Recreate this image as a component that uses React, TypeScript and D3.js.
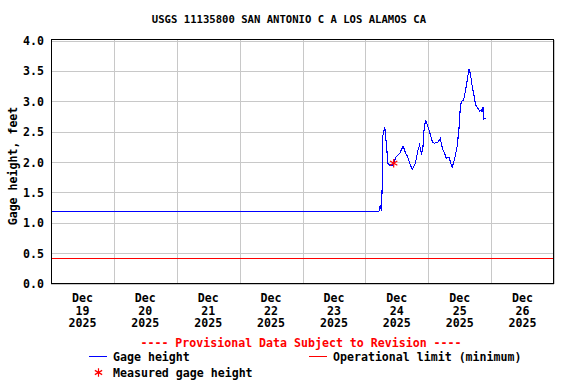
import React, { useEffect, useRef } from 'react';
import * as d3 from 'd3';

// hours after 2025-12-23 00:00 (local)
const gageHours = [
  -96, 29.2, 29.7, 30.2, 30.5, 30.7, 31.4, 31.7, 32.0, 32.6, 33.3, 34.4, 35.8, 37.1, 38.4, 39.4,
  40.1, 40.9, 41.9, 43.1, 44.1, 44.7, 45.4, 45.9, 46.4, 47.0, 48.3, 49.6, 50.4, 51.7, 52.6,
  53.4, 54.3, 54.9, 55.9, 56.8, 57.2, 58.1, 59.0, 59.7, 60.3, 60.9, 61.5, 62.3, 62.9, 63.5,
  64.1, 64.7, 65.3, 66.1, 67.0, 67.6, 68.3, 68.6, 68.9, 69.1, 69.8,
];
const gageFeet = [
  1.19, 1.19, 1.29, 1.19, 1.81, 2.44, 2.58, 2.43, 2.31, 1.98, 1.95, 1.95, 2.09, 2.14, 2.26, 2.14,
  2.09, 1.98, 1.88, 1.98, 2.2, 2.28, 2.14, 2.2, 2.53, 2.69, 2.53, 2.33, 2.31, 2.33, 2.39,
  2.22, 2.14, 2.06, 2.08, 1.95, 1.92, 2.06, 2.25, 2.53, 2.94, 3.01, 3.02, 3.19, 3.35, 3.53,
  3.45, 3.27, 3.13, 2.94, 2.88, 2.84, 2.86, 2.82, 2.91, 2.7, 2.72,
];
const measuredHours = [34.8];
const measuredFeet = [1.98];
const operationalLimit = 0.42;
const yTicks = [0, 0.5, 1, 1.5, 2, 2.5, 3, 3.5, 4];
const dayLabels = ['19', '20', '21', '22', '23', '24', '25', '26'];

const W = 576;
const H = 384;
const FONT = '"DejaVu Sans Mono", monospace';

const App = () => {
  const ref = useRef<SVGSVGElement>(null);

  useEffect(() => {
    const svg = d3.select(ref.current);
    svg.selectAll('*').remove();

    const base = new Date(2025, 11, 23);
    const toDate = (h: number) => new Date(base.getTime() + h * 3600e3);

    const x = d3.scaleTime()
      .domain([new Date(2025, 11, 19), new Date(2025, 11, 27)])
      .range([51, 554]);
    const y = d3.scaleLinear().domain([0, 4]).range([283.5, 40.5]);
    const px = (v: number) => Math.round(v) + 0.5;

    svg.append('rect').attr('width', W).attr('height', H).attr('fill', '#fff');

    svg.append('text')
      .attr('x', 289).attr('y', 20)
      .attr('text-anchor', 'middle').attr('dominant-baseline', 'middle')
      .attr('font-family', FONT).attr('font-size', 10.6).attr('font-weight', 'bold')
      .text('USGS 11135800 SAN ANTONIO C A LOS ALAMOS CA');

    const grid = svg.append('g').attr('shape-rendering', 'crispEdges')
      .attr('stroke', '#c8c8c8').attr('stroke-width', 1);
    yTicks.forEach(t => {
      grid.append('line').attr('x1', 51).attr('x2', 554)
        .attr('y1', px(y(t))).attr('y2', px(y(t)));
    });
    const days = d3.timeDay.range(new Date(2025, 11, 19), new Date(2025, 11, 28));
    days.forEach(d => {
      grid.append('line').attr('y1', 40).attr('y2', 284)
        .attr('x1', px(x(d))).attr('x2', px(x(d)));
    });

    // operational limit
    svg.append('rect')
      .attr('x', 52).attr('width', 501)
      .attr('y', Math.round(y(operationalLimit))).attr('height', 1.4)
      .attr('fill', '#ff0000').attr('shape-rendering', 'crispEdges');

    const line = d3.line<number>()
      .x((_, i) => x(toDate(gageHours[i])))
      .y(d => y(d));
    svg.append('path')
      .attr('d', line(gageFeet))
      .attr('fill', 'none').attr('stroke', '#0000ff').attr('stroke-width', 1.1)
      .attr('shape-rendering', 'crispEdges');

    const star = d3.symbol(d3.symbolAsterisk, 50);
    measuredHours.forEach((h, i) => {
      svg.append('path')
        .attr('d', star())
        .attr('transform', `translate(${x(toDate(h))},${y(measuredFeet[i])})`)
        .attr('fill', 'none').attr('stroke', '#ff0000').attr('stroke-width', 1.2);
    });

    // frame
    svg.append('rect')
      .attr('x', 51.5).attr('y', 39.5).attr('width', 502).attr('height', 244)
      .attr('fill', 'none').attr('stroke', '#000').attr('stroke-width', 1)
      .attr('shape-rendering', 'crispEdges');

    const label = (sel: any) => sel
      .attr('font-family', FONT).attr('font-size', 11.6).attr('font-weight', 'bold')
      .attr('dominant-baseline', 'middle');

    yTicks.forEach(t => {
      svg.append('text').call(label)
        .attr('x', 44).attr('y', y(t) + 1)
        .attr('text-anchor', 'end')
        .text(d3.format('.1f')(t));
    });

    dayLabels.forEach((d, i) => {
      const cx = x(new Date(2025, 11, 19 + i, 12));
      [['Dec', 298.5], [d, 311], ['2025', 323.5]].forEach(([s, yy]) => {
        svg.append('text').call(label)
          .attr('x', cx).attr('y', yy as number)
          .attr('text-anchor', 'middle').text(s as string);
      });
    });

    svg.append('text').call(label)
      .attr('transform', 'translate(13,166) rotate(-90)')
      .attr('text-anchor', 'middle')
      .text('Gage height, feet');

    svg.append('text').call(label)
      .attr('x', 301).attr('y', 343).attr('text-anchor', 'middle')
      .attr('fill', '#ff0000')
      .text('---- Provisional Data Subject to Revision ----');

    // legend
    svg.append('line').attr('x1', 89).attr('x2', 107).attr('y1', 356.5).attr('y2', 356.5)
      .attr('stroke', '#0000ff').attr('shape-rendering', 'crispEdges');
    svg.append('text').call(label).attr('x', 113).attr('y', 357).text('Gage height');
    svg.append('line').attr('x1', 309).attr('x2', 327).attr('y1', 356.5).attr('y2', 356.5)
      .attr('stroke', '#ff0000').attr('shape-rendering', 'crispEdges');
    svg.append('text').call(label).attr('x', 333).attr('y', 357).text('Operational limit (minimum)');
    svg.append('path').attr('d', star())
      .attr('transform', 'translate(98.5,372.5)')
      .attr('fill', 'none').attr('stroke', '#ff0000').attr('stroke-width', 1.2);
    svg.append('text').call(label).attr('x', 113).attr('y', 373).text('Measured gage height');
  }, []);

  return (
    <svg ref={ref} width={W} height={H}
      style={{ position: 'absolute', left: 0, top: 0, display: 'block' }} />
  );
};

export default App;
